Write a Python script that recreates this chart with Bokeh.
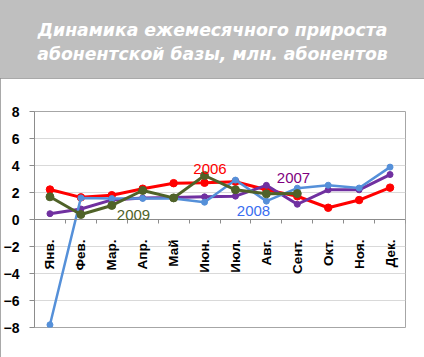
from bokeh.plotting import figure
from bokeh.layouts import column
from bokeh.models import (Range1d, FixedTicker, LinearAxis, Label)
from bokeh.embed import file_html
from bokeh.resources import INLINE
import math

months = ["Янв.", "Фев.", "Мар.", "Апр.", "Май", "Июн.", "Июл.", "Авг.", "Сент.", "Окт.", "Ноя.", "Дек."]
y2006 = [2.22, 1.64, 1.80, 2.28, 2.69, 2.72, 2.80, 2.20, 1.72, 0.87, 1.44, 2.36]
y2007 = [0.43, 0.78, 1.45, 1.60, 1.63, 1.68, 1.73, 2.53, 1.13, 2.20, 2.20, 3.33]
y2008 = [-7.80, 1.60, 1.55, 1.56, 1.55, 1.28, 2.92, 1.36, 2.32, 2.54, 2.33, 3.88]
y2009 = [1.68, 0.37, 1.04, 2.15, 1.60, 3.26, 2.20, 1.90, 1.92]
y_ticks = [-8, -6, -4, -2, 0, 2, 4, 6, 8]
title_lines = ["Динамика ежемесячного прироста", "абонентской базы, млн. абонентов"]

xc = [i + 0.5 for i in range(len(months))]

W = 424
TH = 78            # title band height
H = 357 - TH       # chart height
ML, MR, MT, MB = 34, 19, 111 - TH, 30
X0, X1, Y0, Y1 = 0, 12, -8, 8
FW, FH = W - ML - MR, H - MT - MB


def cx(px):  # chart canvas px -> data x
    return X0 + (px - ML) * (X1 - X0) / FW


def cy(py):  # page px -> data y
    return Y1 - (py - TH - MT) * (Y1 - Y0) / FH


# ---- title band (its frame is aligned with the chart's frame by the column) ----
t = figure(width=W, height=TH, output_backend="svg", toolbar_location=None,
           x_range=Range1d(ML, W - MR), y_range=Range1d(TH, 0),
           min_border_left=0, min_border_right=0, min_border_top=0, min_border_bottom=0,
           x_axis_location=None, y_axis_location=None,
           styles={"background-color": "#bfbfbf"})
t.xgrid.visible = False
t.ygrid.visible = False
t.background_fill_color = "#bfbfbf"
t.border_fill_color = "#bfbfbf"
t.outline_line_color = None
for i, line in enumerate(title_lines):
    t.add_layout(Label(x=W / 2, y=29 + 24 * i, text=line, text_color="white",
                       text_align="center", text_baseline="middle",
                       text_font="DejaVu Sans", text_font_style="bold italic",
                       text_font_size="17.3px"))

# ---- chart ----
p = figure(width=W, height=H, output_backend="svg", toolbar_location=None,
           x_range=Range1d(X0, X1), y_range=Range1d(Y0, Y1),
           min_border_left=ML, min_border_right=MR, min_border_top=MT, min_border_bottom=MB,
           x_axis_location=None,
           styles={"outline": "1px solid #8c8c8c", "outline-offset": "-1px"})
p.outline_line_color = "#a6a6a6"
p.background_fill_color = "white"
p.border_fill_color = "white"

yax = p.yaxis[0]
yax.ticker = FixedTicker(ticks=y_ticks)
yax.axis_line_color = "#8c8c8c"
yax.major_tick_line_color = "#8c8c8c"
yax.major_tick_out = 5
yax.major_tick_in = 0
yax.minor_tick_line_color = None
yax.major_label_standoff = 10
yax.major_label_text_font = "Liberation Sans"
yax.major_label_text_font_style = "bold"
yax.major_label_text_font_size = "14px"
yax.major_label_text_color = "black"

p.ygrid.ticker = FixedTicker(ticks=y_ticks)
p.ygrid.grid_line_color = "#d9d9d9"
p.xgrid.visible = False

tick_ax = LinearAxis(fixed_location=0, ticker=FixedTicker(ticks=list(range(13))))
tick_ax.axis_line_color = "#8c8c8c"
tick_ax.major_tick_line_color = "#8c8c8c"
tick_ax.major_tick_out = 4
tick_ax.major_tick_in = 0
tick_ax.minor_tick_line_color = None
tick_ax.major_label_text_color = None
tick_ax.major_label_text_font_size = "0px"
p.add_layout(tick_ax, "below")

lab_ax = LinearAxis(fixed_location=0, ticker=FixedTicker(ticks=xc))
lab_ax.major_label_overrides = {x: m for x, m in zip(xc, months)}
lab_ax.axis_line_color = None
lab_ax.major_tick_line_color = None
lab_ax.major_tick_out = 0
lab_ax.major_tick_in = 0
lab_ax.minor_tick_line_color = None
lab_ax.major_label_orientation = math.pi / 2
lab_ax.major_label_standoff = 20
lab_ax.major_label_text_font = "Liberation Sans"
lab_ax.major_label_text_font_style = "bold"
lab_ax.major_label_text_font_size = "13.5px"
lab_ax.major_label_text_color = "black"
p.add_layout(lab_ax, "below")

series = [
    (y2006, "#ff0000", 3, 7.5),
    (y2007, "#7030a0", 3, 6),
    (y2008, "#5590d9", 2.5, 6),
    (y2009, "#4f6228", 3, 8),
]
for ys, col, lw, ms in series:
    xs = xc[:len(ys)]
    p.line(xs, ys, line_color=col, line_width=lw)
    p.scatter(xs, ys, size=ms, fill_color=col, line_color=col)

for txt, px, py, col in [("2006", 209.5, 168, "#ff0000"), ("2007", 293, 177, "#800080"),
                         ("2008", 253, 210.5, "#3a6ef0"), ("2009", 133, 214.5, "#4f6228")]:
    p.add_layout(Label(x=cx(px), y=cy(py), text=txt, text_color=col, text_align="center",
                       text_baseline="middle", text_font="Liberation Sans",
                       text_font_size="15px"))

layout = column(t, p, spacing=0,
                styles={"outline": "1px solid #8c8c8c", "outline-offset": "-1px"})

open("out.html", "w").write(file_html(layout, INLINE))
